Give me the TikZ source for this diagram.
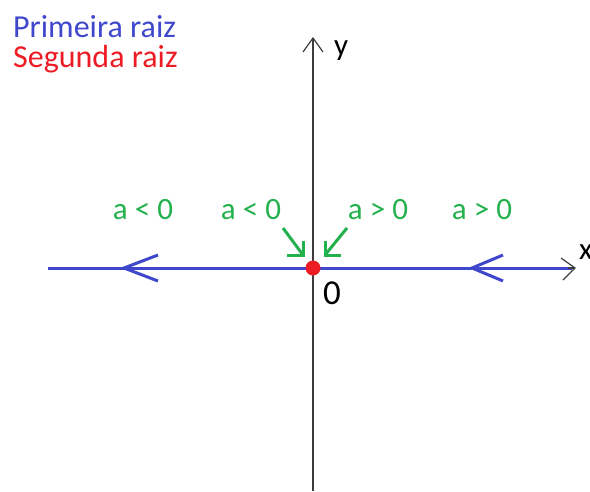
\documentclass[tikz,border=0pt]{standalone}
\usepackage{fontspec}
\setmainfont{Carlito}
\definecolor{pblue}{RGB}{63,72,204}
\definecolor{pred}{RGB}{237,28,36}
\definecolor{pgreen}{RGB}{34,177,76}
\definecolor{axisgray}{RGB}{60,60,60}
\tikzset{
  lbl/.style={font=\fontsize{31}{36}\selectfont, inner sep=0pt},
  tlbl/.style={font=\fontsize{32}{36}\selectfont, inner sep=0pt, anchor=base west},
  glbl/.style={lbl, text=pgreen, anchor=base},
  axisline/.style={draw=axisgray, line width=1.2pt},
  blueline/.style={draw=pblue, line width=3pt},
  greenline/.style={draw=pgreen, line width=3pt},
}
\begin{document}
\begin{tikzpicture}[x=1pt,y=-1pt]
\useasboundingbox (0,0) rectangle (590,491);
% coordinates
\coordinate (ybot) at (313,491);
\coordinate (ytop) at (313,38);
\coordinate (xleft) at (48,268);
\coordinate (xright) at (575,268);
\coordinate (o) at (313,268);
% axes
\draw[axisline] (ybot) -- (ytop);
\draw[axisline] (303,52) -- (ytop) -- (323,52);
\draw[blueline] (xleft) -- (572,268);
\draw[axisline] (561,258) -- (xright) -- (563,280);
\draw[axisline] (568,268) -- (xright);
% blue chevrons
\coordinate (bl) at (124,268);
\coordinate (br) at (472,268);
\draw[blueline] (158,255) -- (bl) -- (158,281);
\draw[blueline] (503,255) -- (br) -- (503,281);
% green arrows
\coordinate (gl1) at (283,228);
\coordinate (gl2) at (303,255);
\coordinate (gr1) at (347,228);
\coordinate (gr2) at (325,255);
\draw[greenline] (gl1) -- (gl2);
\draw[greenline] (287,255) -- (gl2) -- (303,241);
\draw[greenline] (gr1) -- (gr2);
\draw[greenline] (341,255) -- (gr2) -- (325,241);
% red dot
\fill[pred] (o) circle (7.5);
% texts
\node[tlbl, text=pblue] (t1) at (13,37) {Primeira raiz};
\node[tlbl, text=pred] (t2) at (13,67) {Segunda raiz};
\node[lbl, anchor=base west] (ylab) at (334,55) {y};
\node[lbl, anchor=base west] (xlab) at (579,259) {x};
\node[font=\fontsize{35}{40}\selectfont, inner sep=0pt, anchor=base west] (zero) at (323,304) {0};
\node[glbl] (g1) at (143,219) {a < 0};
\node[glbl] (g2) at (251,219) {a < 0};
\node[glbl] (g3) at (378,219) {a > 0};
\node[glbl] (g4) at (482,219) {a > 0};
\end{tikzpicture}
\end{document}
